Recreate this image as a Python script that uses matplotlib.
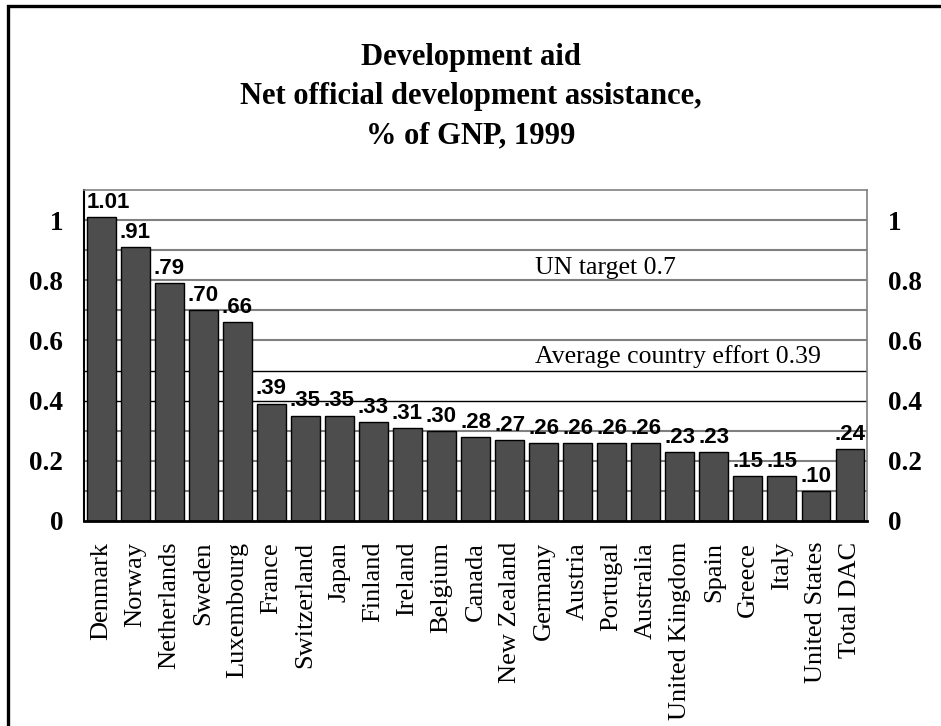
import matplotlib
matplotlib.use("Agg")
import matplotlib.pyplot as plt
from matplotlib.patches import Rectangle

countries = ["Denmark", "Norway", "Netherlands", "Sweden", "Luxembourg", "France",
             "Switzerland", "Japan", "Finland", "Ireland", "Belgium", "Canada",
             "New Zealand", "Germany", "Austria", "Portugal", "Australia",
             "United Kingdom", "Spain", "Greece", "Italy", "United States", "Total DAC"]
oda_pct = [1.01, 0.91, 0.79, 0.70, 0.66, 0.39, 0.35, 0.35, 0.33, 0.31, 0.30, 0.28,
           0.27, 0.26, 0.26, 0.26, 0.26, 0.23, 0.23, 0.15, 0.15, 0.10, 0.24]
value_labels = ["1.01", ".91", ".79", ".70", ".66", ".39", ".35", ".35", ".33", ".31",
                ".30", ".28", ".27", ".26", ".26", ".26", ".26", ".23", ".23", ".15",
                ".15", ".10", ".24"]
y_ticks = [0, 0.2, 0.4, 0.6, 0.8, 1]
y_tick_labels = ["0", "0.2", "0.4", "0.6", "0.8", "1"]
grid_levels = [0.1, 0.2, 0.3, 0.4, 0.5, 0.6, 0.7, 0.8, 0.9, 1.0]
dark_levels = [0.4, 0.5]
notes = [("UN target 0.7", 0.82), ("Average country effort 0.39", 0.525)]

serif = "Liberation Serif"
sans = "Liberation Sans"

fig = plt.figure(figsize=(9.41, 7.26), dpi=100)
fig.patch.set_facecolor("white")
ax = fig.add_axes([0.0893, 0.2824, 0.8321, 0.4559])

x = list(range(len(countries)))
ax.set_xlim(-0.5, len(countries) - 0.5)
ax.set_ylim(0, 1.1)

for lv in grid_levels:
    if lv in dark_levels:
        ax.axhline(lv, color="black", lw=1.0, zorder=1)
    else:
        ax.axhline(lv, color="#808080", lw=1.5, zorder=1)

ax.bar(x, oda_pct, width=0.85, color="#4d4d4d", edgecolor="black", lw=1, zorder=2)

for i, (v, lab) in enumerate(zip(oda_pct, value_labels)):
    dx = 5 if i == 0 else 0
    ax.annotate(lab, (i, v), xytext=(dx, 3), textcoords="offset points",
                ha="center", va="bottom", fontsize=16, fontweight="bold",
                family=sans, zorder=3)

for txt, yv in notes:
    ax.text(12.75, yv, txt, fontsize=18.5, family=serif, ha="left", va="baseline", zorder=3)

ax.set_xticks(x)
ax.set_xticklabels(countries, rotation=90, fontsize=19, family=serif, va="top")
ax.set_yticks(y_ticks)
ax.set_yticklabels(y_tick_labels, fontsize=19.5, fontweight="bold", family=serif)
ax.tick_params(axis="x", length=0, pad=15)
ax.tick_params(axis="y", length=0, pad=15, labelright=True)

for s in ["top", "right"]:
    ax.spines[s].set_color("#808080")
    ax.spines[s].set_linewidth(1.2)
ax.spines["left"].set_color("black")
ax.spines["left"].set_linewidth(1.5)
ax.spines["bottom"].set_color("black")
ax.spines["bottom"].set_linewidth(2)

fig.text(0.5, 0.867, "Development aid\nNet official development assistance,\n% of GNP, 1999",
         ha="center", va="center", fontsize=22, fontweight="bold", family=serif,
         linespacing=1.45)

# outer frame: only left and top edges fall inside the canvas
fig.add_artist(Rectangle((0.008, -0.1), 1.2, 1.0924, transform=fig.transFigure,
                         fill=False, edgecolor="black", lw=2.4))

fig.savefig("out.png", dpi=100)
